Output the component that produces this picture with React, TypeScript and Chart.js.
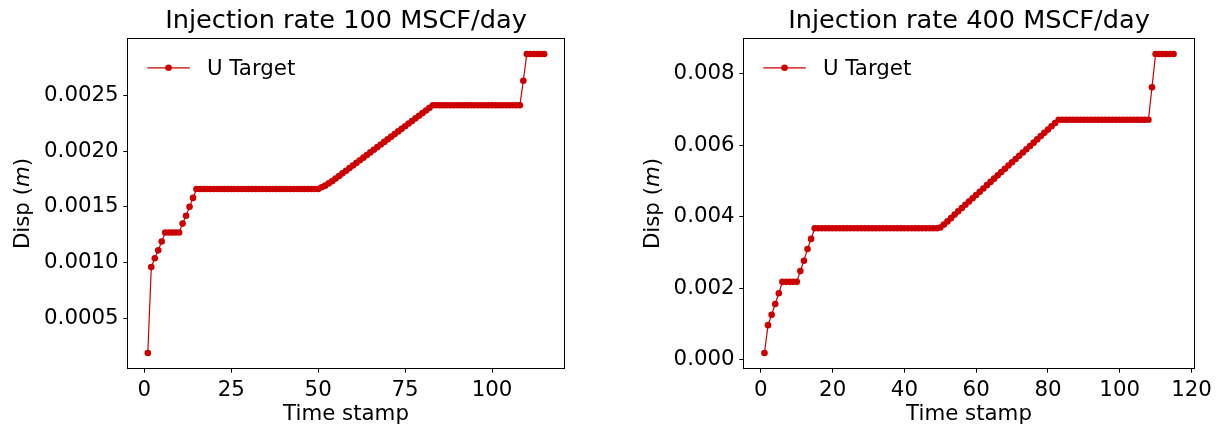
import React, { useEffect, useRef } from "react";
import { Chart, registerables } from "chart.js";

Chart.register(...registerables);

// ---------------- data ----------------
const timeStamps = [
  1, 2, 3, 4, 5, 6, 7, 8, 9, 10, 11, 12, 13, 14, 15, 16, 17, 18, 19, 20,
  21, 22, 23, 24, 25, 26, 27, 28, 29, 30, 31, 32, 33, 34, 35, 36, 37, 38, 39, 40,
  41, 42, 43, 44, 45, 46, 47, 48, 49, 50, 51, 52, 53, 54, 55, 56, 57, 58, 59, 60,
  61, 62, 63, 64, 65, 66, 67, 68, 69, 70, 71, 72, 73, 74, 75, 76, 77, 78, 79, 80,
  81, 82, 83, 84, 85, 86, 87, 88, 89, 90, 91, 92, 93, 94, 95, 96, 97, 98, 99, 100,
  101, 102, 103, 104, 105, 106, 107, 108, 109, 110, 111, 112, 113, 114, 115,
];

// Injection rate 100 MSCF/day
const dispRate100 = [
  0.00019, 0.00096, 0.00104, 0.00111, 0.00119,
  0.00127, 0.00127, 0.00127, 0.00127, 0.00127,
  0.00135, 0.00142, 0.0015, 0.00158, 0.00166,
  0.00166, 0.00166, 0.00166, 0.00166, 0.00166, 0.00166, 0.00166, 0.00166, 0.00166, 0.00166,
  0.00166, 0.00166, 0.00166, 0.00166, 0.00166, 0.00166, 0.00166, 0.00166, 0.00166, 0.00166,
  0.00166, 0.00166, 0.00166, 0.00166, 0.00166, 0.00166, 0.00166, 0.00166, 0.00166, 0.00166,
  0.00166, 0.00166, 0.00166, 0.00166, 0.00166,
  0.001675, 0.00169, 0.00171,
  0.00173, 0.001753, 0.001777, 0.0018, 0.001824, 0.001847, 0.001871, 0.001894, 0.001918, 0.001941,
  0.001965, 0.001988, 0.002011, 0.002035, 0.002058, 0.002082, 0.002105, 0.002129, 0.002152, 0.002176,
  0.002199, 0.002222, 0.002246, 0.002269, 0.002293, 0.002316, 0.00234, 0.002363, 0.002387, 0.00241,
  0.00241, 0.00241, 0.00241, 0.00241, 0.00241, 0.00241, 0.00241, 0.00241, 0.00241, 0.00241,
  0.00241, 0.00241, 0.00241, 0.00241, 0.00241, 0.00241, 0.00241, 0.00241, 0.00241, 0.00241,
  0.00241, 0.00241, 0.00241, 0.00241, 0.00241,
  0.00263,
  0.00287, 0.00287, 0.00287, 0.00287, 0.00287, 0.00287,
];

// Injection rate 400 MSCF/day
const dispRate400 = [
  0.00019, 0.00097, 0.00126, 0.00156, 0.00186,
  0.00218, 0.00218, 0.00218, 0.00218, 0.00218,
  0.00248, 0.00277, 0.0031, 0.00338, 0.00368,
  0.00368, 0.00368, 0.00368, 0.00368, 0.00368, 0.00368, 0.00368, 0.00368, 0.00368, 0.00368,
  0.00368, 0.00368, 0.00368, 0.00368, 0.00368, 0.00368, 0.00368, 0.00368, 0.00368, 0.00368,
  0.00368, 0.00368, 0.00368, 0.00368, 0.00368, 0.00368, 0.00368, 0.00368, 0.00368, 0.00368,
  0.00368, 0.00368, 0.00368, 0.00368,
  0.0037, 0.00378, 0.00387, 0.00396,
  0.00406, 0.004151, 0.004243, 0.004334, 0.004426, 0.004517, 0.004608, 0.0047, 0.004791, 0.004883,
  0.004974, 0.005065, 0.005157, 0.005248, 0.00534, 0.005431, 0.005522, 0.005614, 0.005705, 0.005797,
  0.005888, 0.005979, 0.006071, 0.006162, 0.006254, 0.006345, 0.006436, 0.006528, 0.006619, 0.00671,
  0.00671, 0.00671, 0.00671, 0.00671, 0.00671, 0.00671, 0.00671, 0.00671, 0.00671, 0.00671,
  0.00671, 0.00671, 0.00671, 0.00671, 0.00671, 0.00671, 0.00671, 0.00671, 0.00671, 0.00671,
  0.00671, 0.00671, 0.00671, 0.00671, 0.00671,
  0.00762,
  0.00855, 0.00855, 0.00855, 0.00855, 0.00855, 0.00855,
];

const xTicks100 = [0, 25, 50, 75, 100];
const xTicks400 = [0, 20, 40, 60, 80, 100, 120];
const yTicks100 = [0.0005, 0.001, 0.0015, 0.002, 0.0025];
const yTicks400 = [0, 0.002, 0.004, 0.006, 0.008];

const title100 = "Injection rate 100 MSCF/day";
const title400 = "Injection rate 400 MSCF/day";
const seriesLabel = "U Target";
const xAxisLabel = "Time stamp";

// ---------------- style ----------------
const FONT = "'DejaVu Sans', 'Liberation Sans', sans-serif";
const RED = "#cc0000";
const BASE = 21.33;
const TITLE_SIZE = 25.6;
const TICK_LEN = 4.67;
const TICK_PAD = 4.67;
const CW = 611;
const CH = 431;
const PLOT_TOP = 39;
const PLOT_BOTTOM = 368;

const decorPlugin = {
  id: "decor",
  afterDraw(chart: any) {
    const { ctx, chartArea: a } = chart;
    const o = chart.options.plugins.decor;
    ctx.save();
    // frame (spines)
    ctx.strokeStyle = "#000";
    ctx.lineWidth = 1;
    ctx.strokeRect(a.left - 0.5, a.top - 0.5, a.right - a.left + 1, a.bottom - a.top + 1);

    // legend (no frame)
    const ds = chart.data.datasets[0];
    const lx = a.left + 0.9 * BASE;
    const ly = a.top + 28.8;
    ctx.strokeStyle = ds.borderColor;
    ctx.lineWidth = ds.borderWidth;
    ctx.beginPath();
    ctx.moveTo(lx, ly);
    ctx.lineTo(lx + 2 * BASE, ly);
    ctx.stroke();
    ctx.fillStyle = ds.pointBackgroundColor;
    ctx.beginPath();
    ctx.arc(lx + BASE, ly, ds.pointRadius, 0, Math.PI * 2);
    ctx.fill();
    ctx.fillStyle = "#000";
    ctx.font = `${BASE}px ${FONT}`;
    ctx.textBaseline = "alphabetic";
    ctx.textAlign = "left";
    ctx.fillText(ds.label, lx + 2.8 * BASE, ly + 7.2);

    // y-axis label with italic unit: "Disp ($m$)"
    const yScale = chart.scales.y;
    ctx.font = `${BASE}px ${FONT}`;
    let maxW = 0;
    for (const t of yScale.ticks) {
      const w = ctx.measureText(yScale.options.ticks.callback(t.value)).width;
      if (w > maxW) maxW = w;
    }
    const baseX = a.left - TICK_LEN - TICK_PAD - maxW - 15;
    const parts = [
      { t: o.yLabel[0], f: `${BASE}px ${FONT}` },
      { t: o.yLabel[1], f: `italic ${BASE}px ${FONT}` },
      { t: o.yLabel[2], f: `${BASE}px ${FONT}` },
    ];
    let total = 0;
    for (const p of parts) {
      ctx.font = p.f;
      total += ctx.measureText(p.t).width;
    }
    ctx.translate(baseX, (a.top + a.bottom) / 2);
    ctx.rotate(-Math.PI / 2);
    let cx = -total / 2;
    ctx.textAlign = "left";
    for (const p of parts) {
      ctx.font = p.f;
      ctx.fillText(p.t, cx, 0);
      cx += ctx.measureText(p.t).width;
    }
    ctx.restore();
  },
};

type PanelProps = {
  title: string;
  values: number[];
  xTicks: number[];
  yTicks: number[];
  yDecimals: number;
  plotLeft: number;
  plotRight: number;
  offsetLeft: number;
};

function Panel({ title, values, xTicks, yTicks, yDecimals, plotLeft, plotRight, offsetLeft }: PanelProps) {
  const ref = useRef<HTMLCanvasElement>(null);

  useEffect(() => {
    const canvas = ref.current;
    if (!canvas) return;
    const xMinD = Math.min(...timeStamps);
    const xMaxD = Math.max(...timeStamps);
    const yMinD = Math.min(...values);
    const yMaxD = Math.max(...values);
    const xm = (xMaxD - xMinD) * 0.05;
    const ym = (yMaxD - yMinD) * 0.05;

    const chart = new Chart(canvas, {
      type: "line",
      data: {
        datasets: [
          {
            label: seriesLabel,
            data: timeStamps.map((x, i) => ({ x, y: values[i] })),
            borderColor: RED,
            backgroundColor: RED,
            pointBackgroundColor: RED,
            pointBorderColor: RED,
            pointBorderWidth: 0,
            pointRadius: 3.3,
            pointHoverRadius: 3.3,
            borderWidth: 1.2,
            tension: 0,
          },
        ],
      },
      options: {
        responsive: false,
        animation: false,
        devicePixelRatio: 1,
        events: [],
        layout: { padding: { left: 0, top: 0, bottom: 0, right: CW - plotRight } },
        plugins: {
          legend: { display: false },
          tooltip: { enabled: false },
          title: {
            display: true,
            text: title,
            fullSize: false,
            color: "#000",
            font: { family: FONT, size: TITLE_SIZE, weight: "normal", lineHeight: 1.2 },
            padding: { top: 5.5, bottom: PLOT_TOP - TITLE_SIZE * 1.2 - 5.5 },
          },
          decor: { yLabel: ["Disp (", "m", ")"] },
        } as any,
        scales: {
          x: {
            type: "linear",
            min: xMinD - xm,
            max: xMaxD + xm,
            afterBuildTicks: (s: any) => {
              s.ticks = xTicks.map((v) => ({ value: v }));
            },
            afterFit: (s: any) => {
              s.height = CH - PLOT_BOTTOM;
              s.paddingLeft = 0;
              s.paddingRight = 0;
            },
            ticks: {
              color: "#000",
              font: { family: FONT, size: BASE },
              padding: TICK_PAD,
              maxRotation: 0,
              autoSkip: false,
              callback: (v: any) => String(v),
            },
            grid: { drawOnChartArea: false, color: "#000", lineWidth: 1, tickLength: TICK_LEN },
            border: { display: false },
            title: {
              display: true,
              text: xAxisLabel,
              color: "#000",
              font: { family: FONT, size: BASE },
              padding: { top: 0, bottom: 3.5 },
            },
          },
          y: {
            type: "linear",
            min: yMinD - ym,
            max: yMaxD + ym,
            afterBuildTicks: (s: any) => {
              s.ticks = yTicks.map((v) => ({ value: v }));
            },
            afterFit: (s: any) => {
              s.width = plotLeft;
              s.paddingTop = 0;
              s.paddingBottom = 0;
            },
            ticks: {
              color: "#000",
              font: { family: FONT, size: BASE },
              padding: TICK_PAD,
              autoSkip: false,
              callback: (v: any) => Number(v).toFixed(yDecimals),
            },
            grid: { drawOnChartArea: false, color: "#000", lineWidth: 1, tickLength: TICK_LEN },
            border: { display: false },
          },
        },
      } as any,
      plugins: [decorPlugin as any],
    });
    return () => chart.destroy();
  }, []);

  return (
    <canvas
      ref={ref}
      width={CW}
      height={CH}
      style={{ position: "absolute", left: offsetLeft, top: 0, width: CW, height: CH, display: "block" }}
    />
  );
}

export default function App() {
  return (
    <div style={{ position: "absolute", left: 0, top: 0, width: 1222, height: 431, background: "#fff", overflow: "hidden" }}>
      <Panel
        title={title100}
        values={dispRate100}
        xTicks={xTicks100}
        yTicks={yTicks100}
        yDecimals={4}
        plotLeft={128}
        plotRight={564}
        offsetLeft={0}
      />
      <Panel
        title={title400}
        values={dispRate400}
        xTicks={xTicks400}
        yTicks={yTicks400}
        yDecimals={3}
        plotLeft={133}
        plotRight={583}
        offsetLeft={611}
      />
    </div>
  );
}
